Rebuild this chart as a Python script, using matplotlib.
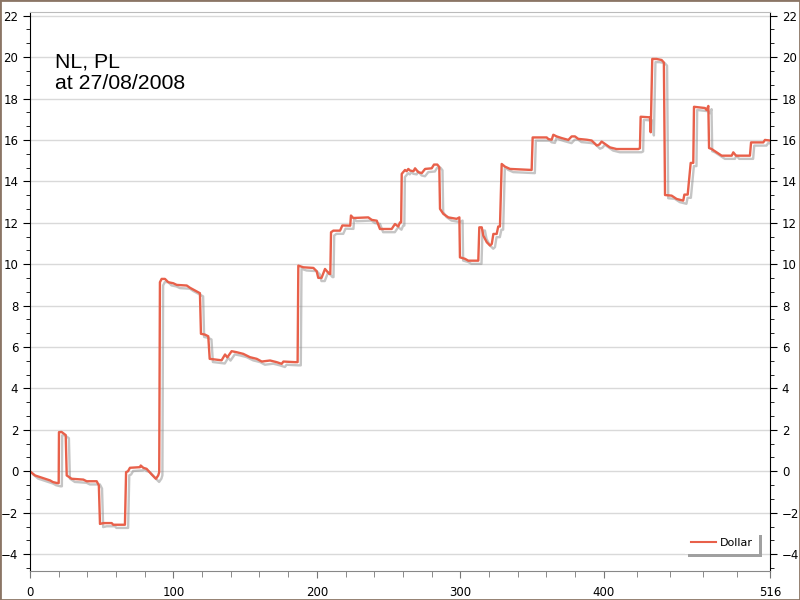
import matplotlib

matplotlib.use("Agg")
import matplotlib.pyplot as plt  # noqa: E402
import matplotlib.patheffects as pe  # noqa: E402
from matplotlib.lines import Line2D  # noqa: E402
from matplotlib.patches import Rectangle  # noqa: E402
from matplotlib.ticker import MultipleLocator, FixedLocator  # noqa: E402

# trade index vs cumulative P/L (vertices)
trade = [
    0, 3.5, 7, 10.5, 14, 16, 19, 20, 20.2, 22, 23.7, 24.9, 25.6, 29, 37.2, 39.5,
    46.5, 48, 48.8, 51.2, 57, 58, 66.2, 67, 68.3, 69.7, 76.7, 77.2, 79, 81.3,
    84.8, 87.8, 89.4, 90.1, 90.6, 91.8, 94.1, 96.4, 99.9, 102.3, 109.3, 111.6,
    116.2, 118.5, 119.2, 122, 124.3, 125.3, 131.3, 133.6, 136, 137.6, 140.6,
    144.1, 148.7, 153.4, 158.1, 161.6, 167.4, 172, 175.5, 176.7, 184.8, 186.6,
    187.1, 190.6, 197.6, 199.9, 201, 203.3, 205.7, 208.7, 209.4, 209.9, 211.5,
    216.2, 217.8, 222, 223.3, 223.8, 225.4, 235.9, 238.3, 241.8, 244, 252.2,
    254.5, 256.8, 258, 258.8, 259.2, 261.5, 262.6, 263.8, 265, 267.4, 268.5,
    270.8, 273.2, 275.5, 280.1, 281.7, 284, 285.4, 285.9, 288.2, 291.7, 297.5,
    299.4, 299.8, 303.3, 305.6, 312.6, 313.3, 315, 316.1, 318.5, 320.8, 322,
    323.1, 325.4, 326.5, 327.7, 328.9, 331.2, 334.7, 349.8, 350.5, 360.3, 361.5,
    363.8, 364.9, 367.2, 370.7, 375.4, 377.7, 380, 382.3, 388.2, 391.7, 395.2,
    397, 398.6, 400.9, 404.4, 409, 424.2, 425.3, 425.8, 432.3, 432.8, 433.9,
    436.9, 440.4, 442, 442.8, 447.4, 450.9, 455.5, 456.3, 458.6, 460.7, 462.5,
    463, 467.2, 470.7, 471.8, 473, 473.5, 475.3, 478.8, 482.3, 489.3, 490.4,
    492.3, 502, 502.8, 505.5, 511.3, 512.5, 516,
]
dollar = [
    0.0, -0.2, -0.28, -0.36, -0.44, -0.52, -0.57, -0.57, 1.89, 1.9, 1.81, 1.75,
    -0.2, -0.36, -0.4, -0.48, -0.48, -0.68, -2.54, -2.5, -2.5, -2.58, -2.58,
    -0.04, 0.0, 0.17, 0.2, 0.28, 0.17, 0.12, -0.15, -0.36, -0.2, -0.04, 9.13,
    9.29, 9.29, 9.13, 9.08, 9.0, 8.97, 8.86, 8.69, 8.6, 6.64, 6.6, 6.52, 5.43,
    5.38, 5.36, 5.64, 5.5, 5.8, 5.75, 5.67, 5.51, 5.43, 5.3, 5.35, 5.27, 5.19,
    5.3, 5.27, 5.27, 9.93, 9.85, 9.82, 9.66, 9.34, 9.34, 9.77, 9.53, 9.53,
    11.54, 11.62, 11.62, 11.87, 11.86, 11.86, 12.35, 12.23, 12.26, 12.14, 12.1,
    11.7, 11.7, 11.94, 11.82, 12.02, 12.02, 14.36, 14.55, 14.49, 14.6, 14.52,
    14.49, 14.63, 14.44, 14.4, 14.6, 14.63, 14.81, 14.81, 14.69, 12.67, 12.43,
    12.26, 12.19, 12.26, 10.33, 10.26, 10.17, 10.17, 11.78, 11.78, 11.38,
    11.06, 10.9, 10.98, 11.46, 11.46, 11.82, 11.82, 14.84, 14.71, 14.6, 14.55,
    16.12, 16.12, 16.04, 16.01, 16.25, 16.17, 16.09, 16.0, 16.17, 16.17, 16.05,
    16.01, 15.97, 15.73, 15.78, 15.92, 15.81, 15.64, 15.56, 15.56, 15.6, 17.12,
    17.09, 16.37, 19.91, 19.91, 19.86, 19.74, 13.34, 13.31, 13.15, 13.07, 13.36,
    13.36, 14.89, 14.89, 17.6, 17.57, 17.54, 17.44, 17.64, 15.61, 15.56, 15.4,
    15.24, 15.24, 15.4, 15.24, 15.24, 15.88, 15.88, 15.88, 16.0, 15.97,
]
x_major = [0, 100, 200, 300, 400, 516]
x_minor = [20, 40, 60, 80, 120, 140, 160, 180, 220, 240, 260, 280,
           320, 340, 360, 380, 423.2, 446.4, 469.6, 492.8]
title_lines = ["NL, PL", "at 27/08/2008"]
line_color = "#e8604a"

fig = plt.figure(figsize=(8, 6), dpi=100)
ax = fig.add_axes([0.0375, 0.0488, 0.925, 0.932])

ax.plot(trade, dollar, color=line_color, linewidth=1.7,
        path_effects=[pe.SimpleLineShadow(offset=(2.3, -2.3), shadow_color="#8c8c8c", alpha=0.5),
                      pe.Normal()])

ax.set_xlim(0, 516)
ax.set_ylim(-4.8, 22.2)
ax.xaxis.set_major_locator(FixedLocator(x_major))
ax.xaxis.set_minor_locator(FixedLocator(x_minor))
ax.yaxis.set_major_locator(MultipleLocator(2))
ax.yaxis.set_minor_locator(MultipleLocator(2 / 3))
ax.yaxis.grid(True, color="#d9d9d9", linewidth=1)
ax.set_axisbelow(True)

ax.tick_params(axis="y", which="both", left=True, right=True, labelleft=True,
               labelright=True, direction="out", color="black", labelsize=8.5)
ax.tick_params(axis="y", which="major", length=5)
ax.tick_params(axis="y", which="minor", length=3)
ax.tick_params(axis="x", which="both", direction="out", color="#777777", labelsize=8.5)
ax.tick_params(axis="x", which="major", length=5, pad=6)
ax.tick_params(axis="x", which="minor", length=4)

ax.spines["left"].set_color("black")
ax.spines["right"].set_color("black")
ax.spines["bottom"].set_color("#888888")
ax.spines["top"].set_color("#bbbbbb")

ax.text(0.034, 0.927, "\n".join(title_lines), transform=ax.transAxes, va="top",
        ha="left", fontsize=15.3, family="Liberation Sans", linespacing=1.2)

handle = Line2D([], [], color=line_color, linewidth=1.5)
leg = ax.legend([handle], ["Dollar"], loc="lower right", fontsize=8, frameon=True,
                fancybox=False, shadow={"color": "#a0a0a0", "alpha": 1.0},
                borderpad=0.55, handlelength=2.2, handletextpad=0.4,
                bbox_to_anchor=(0.993, 0.02))
leg.get_frame().set_edgecolor("white")
leg.get_frame().set_linewidth(0)

fig.patches.append(Rectangle((0, 0), 1, 1, transform=fig.transFigure, fill=False,
                             edgecolor="#8b7565", linewidth=2))

fig.savefig("out.png", dpi=100)
plt.close(fig)
